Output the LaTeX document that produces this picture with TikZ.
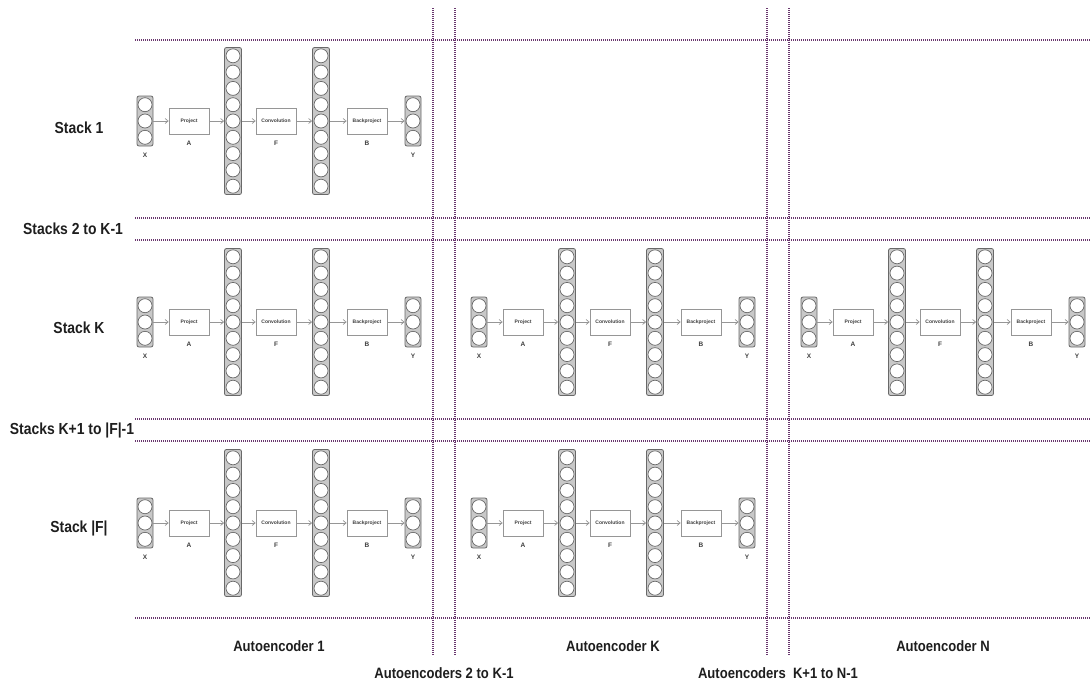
\documentclass[tikz,border=0pt]{standalone}
\usepackage{fontspec}
\setmainfont{Liberation Sans}
\newfontfamily\narrowfont{Liberation Sans}[FakeStretch=0.87]
\usetikzlibrary{arrows.meta}

\definecolor{sepcol}{RGB}{105,55,110}
\definecolor{colfill}{RGB}{200,200,200}
\definecolor{coledge}{RGB}{105,105,105}
\definecolor{txt}{RGB}{30,30,30}
\definecolor{boxedge}{RGB}{150,150,150}

\tikzset{
 sep/.style={draw=sepcol, line width=1.1pt, dash pattern=on 1pt off 1pt},
 colbox/.style={draw=coledge, fill=colfill, rounded corners=2pt, line width=0.8pt, inner sep=0pt, minimum width=17},
 neuron/.style={circle, draw=coledge, fill=white, line width=0.7pt, minimum size=14, inner sep=0pt},
 opbox/.style={draw=boxedge, fill=white, line width=0.7pt, minimum width=40, minimum height=26, inner sep=0pt, font=\fontsize{5}{6}\selectfont\bfseries, text=txt!85},
 conn/.style={draw=boxedge, line width=0.7pt, -{Straight Barb[length=3pt,width=5pt]}},
 sym/.style={font=\fontsize{6.5}{7}\selectfont\bfseries, text=txt!85},
 rowlab/.style={font=\narrowfont\fontsize{16}{18}\selectfont\bfseries, text=txt},
 collab/.style={font=\narrowfont\fontsize{15}{17}\selectfont\bfseries, text=txt},
}

\newcommand\aeblock[3]{%
\begin{scope}[shift={(#2,#3)}]
 \node[colbox, minimum width=16, minimum height=50] (#1x) at (145,0) {};
 \foreach \k in {-1,0,1} \node[neuron] at (145,\k*16.3) {};
 \node[opbox] (#1p) at (189,0) {Project};
 \node[colbox, minimum height=147] (#1h) at (233,0) {};
 \foreach \k in {-4,...,4} \node[neuron] at (233,\k*16.3) {};
 \node[opbox] (#1c) at (276,0) {Convolution};
 \node[colbox, minimum height=147] (#1g) at (321,0) {};
 \foreach \k in {-4,...,4} \node[neuron] at (321,\k*16.3) {};
 \node[opbox] (#1b) at (367,0) {Backproject};
 \node[colbox, minimum width=16, minimum height=50] (#1y) at (413,0) {};
 \foreach \k in {-1,0,1} \node[neuron] at (413,\k*16.3) {};
 \node[sym] (#1lx) at (145,34) {X};
 \node[sym] (#1la) at (189,22) {A};
 \node[sym] (#1lf) at (276,22) {F};
 \node[sym] (#1lb) at (367,22) {B};
 \node[sym] (#1ly) at (413,34) {Y};
 \draw[conn] (#1x) -- (#1p);
 \draw[conn] (#1p) -- (#1h);
 \draw[conn] (#1h) -- (#1c);
 \draw[conn] (#1c) -- (#1g);
 \draw[conn] (#1g) -- (#1b);
 \draw[conn] (#1b) -- (#1y);
\end{scope}}

\begin{document}
\begin{tikzpicture}[x=1pt,y=-1pt]
\useasboundingbox[fill=white] (0,0) rectangle (1091,686);

% separators
\foreach \yy in {40,218,240,419,441,618}
  \draw[sep] (135,\yy) -- (1091,\yy);
\foreach \xx in {433,455,767,789}
  \draw[sep] (\xx,8) -- (\xx,656);

% blocks
\aeblock{a}{0}{121}
\aeblock{b}{0}{322}
\aeblock{c}{334}{322}
\aeblock{d}{664}{322}
\aeblock{e}{0}{523}
\aeblock{f}{334}{523}

% row labels
\node[rowlab] (r1) at (79,128) {Stack 1};
\node[rowlab] (r2) at (73,229) {Stacks 2 to K-1};
\node[rowlab] (r3) at (79,328) {Stack K};
\node[rowlab] (r4) at (72,430) {Stacks K+1 to |F|-1};
\node[rowlab] (r5) at (79,528) {Stack |F|};

% column labels
\node[collab] (c1) at (279,646) {Autoencoder 1};
\node[collab] (c2) at (613,646) {Autoencoder K};
\node[collab] (c3) at (943,646) {Autoencoder N};
\node[collab] (c4) at (444,673) {Autoencoders 2 to K-1};
\node[collab] (c5) at (778,673) {Autoencoders\ \ K+1 to N-1};
\end{tikzpicture}
\end{document}
